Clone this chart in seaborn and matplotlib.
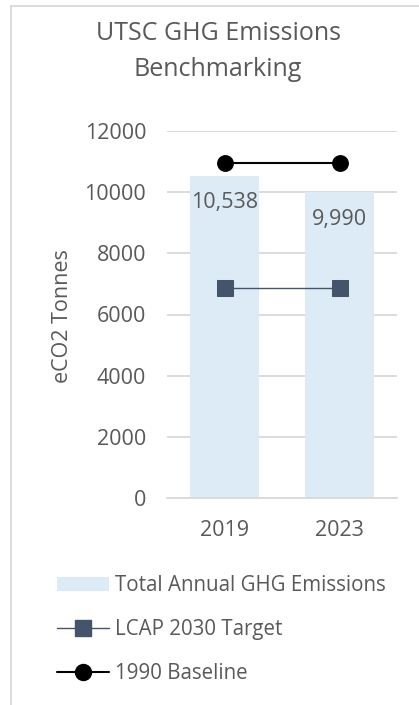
import matplotlib
matplotlib.use("Agg")
import matplotlib.pyplot as plt
from matplotlib.lines import Line2D
from matplotlib.patches import Patch
import seaborn as sns
import pandas as pd

years = ["2019", "2023"]
emissions = [10538, 9990]
lcap_target = [6870, 6870]
baseline_1990 = [10950, 10950]
emission_labels = ["10,538", "9,990"]
yticks = [0, 2000, 4000, 6000, 8000, 10000, 12000]

sns.set_theme(style="white")
plt.rcParams['font.family'] = ['Open Sans', 'DejaVu Sans']

TXT = "#595959"
GRID = "#d9d9d9"
BAR = "#ddebf7"
TARGET = "#44546a"

fig = plt.figure(figsize=(4.19, 7.05), dpi=100)
ax = fig.add_axes([167/419, 1-498/705, 230/419, 367/705])

df = pd.DataFrame({"year": years, "emissions": emissions,
                   "target": lcap_target, "baseline": baseline_1990})

sns.barplot(data=df, x="year", y="emissions", order=years, color=BAR,
            saturation=1, width=0.6, ax=ax, zorder=2, edgecolor="none")
sns.pointplot(data=df, x="year", y="target", order=years, color=TARGET,
              marker="s", markersize=11, linewidth=1.0, ax=ax, zorder=3)
sns.pointplot(data=df, x="year", y="baseline", order=years, color="black",
              marker="o", markersize=11, linewidth=1.5, ax=ax, zorder=4)

for i, (v, lab) in enumerate(zip(emissions, emission_labels)):
    ax.annotate(lab, xy=(i, v), xytext=(0, -19.5), textcoords="offset points",
                ha="center", va="center", fontsize=15.5, color=TXT, zorder=5)

ax.set_ylim(0, 12000)
ax.set_xlim(-0.5, 1.5)
ax.set_yticks(yticks)
ax.yaxis.grid(True, color=GRID, linewidth=1.3, zorder=0)
ax.set_axisbelow(True)
for s in ["top", "right", "left"]:
    ax.spines[s].set_visible(False)
ax.spines["bottom"].set_color(GRID)
ax.spines["bottom"].set_linewidth(1.3)
ax.tick_params(axis="both", length=0, labelsize=15.5, labelcolor=TXT)
ax.tick_params(axis="y", pad=15)
ax.tick_params(axis="x", pad=16)
ax.set_xlabel("")
ax.set_ylabel("")

fig.text(62/419, 1-316/705, "eCO2 Tonnes", rotation=90, ha="center",
         va="center", fontsize=15.5, color=TXT)

fig.text(218/419, 1-34/705, "UTSC GHG Emissions", ha="center", va="center",
         fontsize=18, color=TXT)
fig.text(218/419, 1-70/705, "Benchmarking", ha="center", va="center",
         fontsize=18, color=TXT)

# chart frame border (partially cropped)
fig.add_artist(Line2D([11/419, 11/419], [0, 1-5.5/705], transform=fig.transFigure,
                      color=GRID, linewidth=1.3))
fig.add_artist(Line2D([11/419, 1], [1-5.5/705, 1-5.5/705], transform=fig.transFigure,
                      color=GRID, linewidth=1.3))

handles = [
    Patch(facecolor=BAR, edgecolor="none"),
    Line2D([], [], color=TARGET, marker="s", markersize=11, linewidth=1.0),
    Line2D([], [], color="black", marker="o", markersize=11.5, linewidth=1.5),
]
labels = ["Total Annual GHG Emissions", "LCAP 2030 Target", "1990 Baseline"]
fig.legend(handles, labels, loc="upper left", bbox_to_anchor=(57/419, 1-575/705),
           frameon=False, fontsize=14.8, labelcolor=TXT, handlelength=2.55,
           handleheight=0.7, handletextpad=0.28, labelspacing=1.12,
           borderaxespad=0, borderpad=0)

fig.savefig("out.png", dpi=100)
